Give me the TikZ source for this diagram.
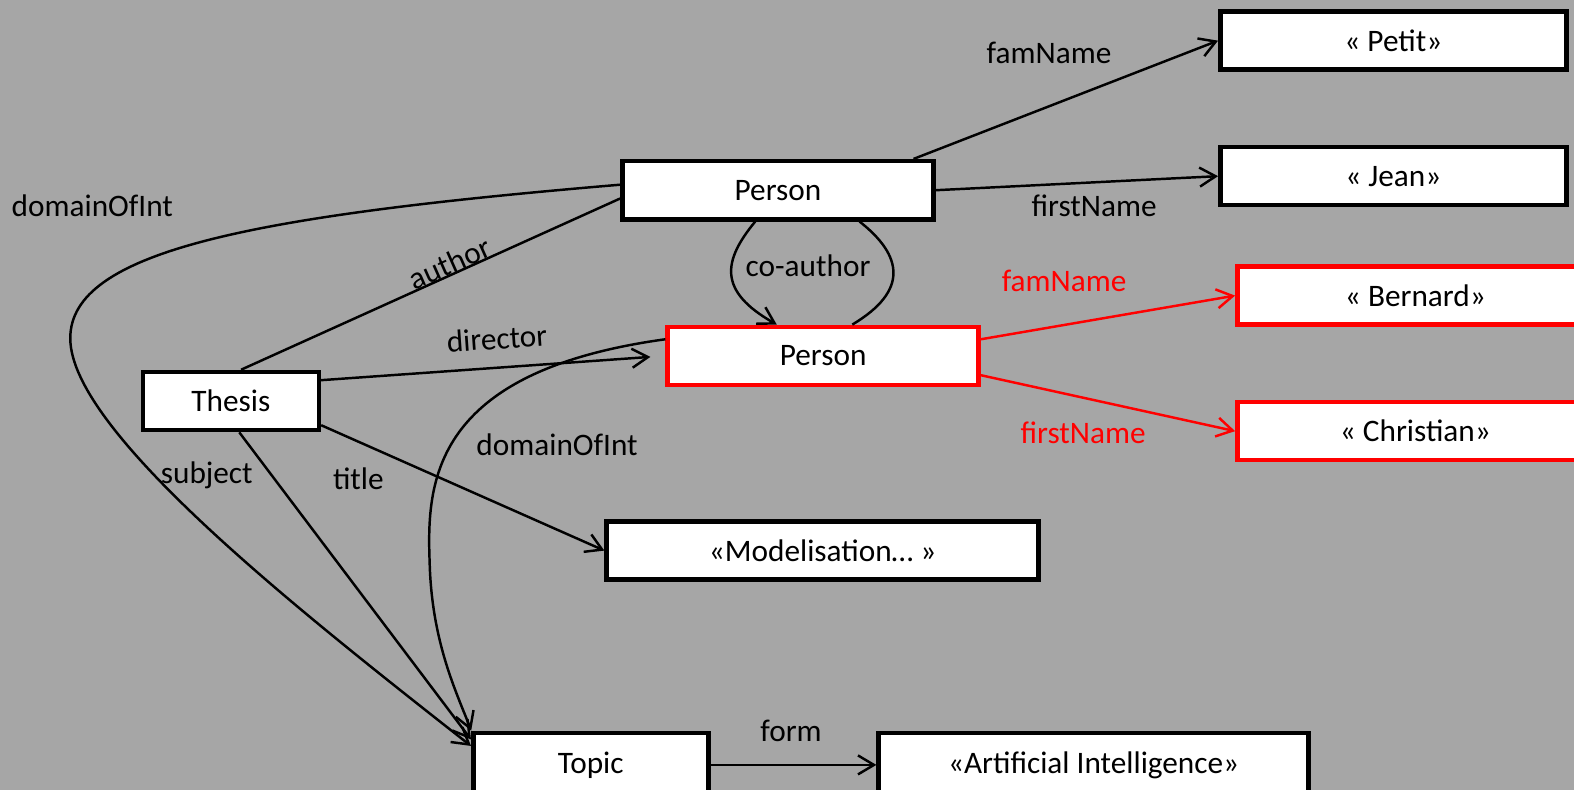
\documentclass[tikz,border=0pt]{standalone}
\usepackage{fontspec}
\setmainfont{Carlito}
\usetikzlibrary{arrows.meta}

\definecolor{bggray}{HTML}{A6A6A6}
\tikzset{
	box/.style={draw, fill=white, line width=1.3pt, minimum height=5.8mm, inner sep=0pt},
	redbox/.style={box, draw=red},
	rel/.style={line width=0.7pt, -{Straight Barb[length=1.6mm,width=1.9mm]}},
	lbl/.style={inner sep=0pt},
}

\begin{document}
\begin{tikzpicture}[x=1.0038cm, y=-1.0038cm, font=\fontsize{8.9}{10}\selectfont]
	\clip (0,0) rectangle (15.68,7.87);
	\fill[bggray] (0,0) rectangle (15.68,7.87);
	% objects
	\node[box, minimum width=3.46cm] (petit) at (13.88,0.405) {« Petit»};
	\node[box, minimum width=3.46cm] (jean) at (13.88,1.755) {« Jean»};
	\node[box, minimum width=3.11cm] (person1) at (7.75,1.895) {Person};
	\node[redbox, minimum width=3.56cm] (bernard) at (14.10,2.945) {« Bernard»};
	\node[redbox, minimum width=3.56cm] (christian) at (14.10,4.295) {« Christian»};
	\node[redbox, minimum width=3.11cm] (person2) at (8.20,3.545) {Person};
	\node[box, minimum width=1.76cm] (thesis) at (2.30,3.995) {Thesis};
	\node[box, minimum width=4.32cm] (model) at (8.195,5.485) {«Modelisation… »};
	\node[box, minimum width=2.35cm, minimum height=6.4mm] (topic) at (5.885,7.62) {Topic};
	\node[box, minimum width=4.30cm, minimum height=6.4mm] (ai) at (10.895,7.62) {«Artificial Intelligence»};
	% first person
	\draw[rel] (person1.13) -- (petit.west);
	\draw[rel] (person1.east) -- (jean.west);
	\node[lbl] (famlbl) at (10.45,0.53) {famName};
	\node[lbl] (firstlbl) at (10.90,2.05) {firstName};
	% second person
	\draw[rel, red] (person2.6) -- (bernard.west);
	\draw[rel, red] (person2.-7) -- (christian.west);
	\node[lbl, red] (famlbl2) at (10.60,2.80) {famName};
	\node[lbl, red] (firstlbl2) at (10.79,4.31) {firstName};
	% thesis
	\draw[line width=0.7pt] (thesis.72) -- (person1.183);
	\draw[rel, shorten >=1.5mm] (thesis.13) -- (person2.west);
	\draw[rel] (thesis.-15) -- (model.west);
	\draw[rel] (thesis.-75) -- (topic.168);
	\node[lbl, rotate=24] (authorlbl) at (4.48,2.62) {author};
	\node[lbl, rotate=4] (dirlbl) at (4.95,3.37) {director};
	\node[lbl] (titlelbl) at (3.57,4.77) {title};
	\node[lbl] (subjlbl) at (2.06,4.74) {subject};
	% domains
	\draw[rel] (person1.178) .. controls (2.50,2.15) and (0.70,2.50) .. (0.70,3.37)
		.. controls (0.70,4.30) and (3.00,6.10) .. (topic.171);
	\draw[rel] (person2.174) .. controls (4.30,3.70) and (4.25,4.80) .. (4.28,5.60)
		.. controls (4.30,6.40) and (4.55,6.90) .. (topic.164);
	\node[lbl] (domlbl) at (0.92,2.05) {domainOfInt};
	\node[lbl] (domlbl2) at (5.55,4.43) {domainOfInt};
	% co-author
	\draw[rel] (person1.234) .. controls (7.20,2.60) and (7.15,2.90) .. (person2.146);
	\draw[line width=0.7pt] (person2.47) .. controls (9.05,2.90) and (9.00,2.55) .. (person1.-21);
	\node[lbl] (colbl) at (8.05,2.65) {co-author};
	% topic
	\draw[rel] (topic.east) -- (ai.west);
	\node[lbl] (formlbl) at (7.88,7.28) {form};
\end{tikzpicture}
\end{document}
